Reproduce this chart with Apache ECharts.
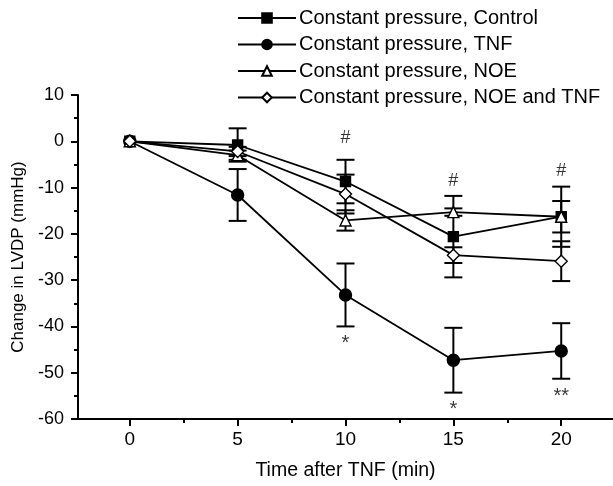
<!DOCTYPE html>
<html>
<head>
<meta charset="utf-8">
<script src="https://cdn.jsdelivr.net/npm/echarts@6/dist/echarts.min.js"></script>
<style>
  html, body { margin: 0; padding: 0; background: #fff; }
  #chart { width: 613px; height: 486px; }
</style>
</head>
<body>
<div id="chart"></div>
<script>
const times = [0, 5, 10, 15, 20];
const controlMean = [0, -0.8, -8.7, -20.6, -16.3];
const controlSe = [0, 3.6, 4.7, 8.8, 6.5];
const tnfMean = [0, -11.6, -33.2, -47.3, -45.3];
const tnfSe = [0, 5.6, 6.8, 7.0, 6.0];
const noeMean = [0, -3.0, -17.1, -15.3, -16.3];
const noeSe = [0, 1.0, 2.2, 0.8, 3.4];
const noeTnfMean = [0, -2.2, -11.4, -24.6, -25.9];
const noeTnfSe = [0, 1.0, 4.2, 1.7, 4.3];

const xTicks = [0, 5, 10, 15, 20];
const xMinorTicks = [2.5, 7.5, 12.5, 17.5];

// significance marks: [time, y, text]
const hashMarks = [[10, 0.6, '#'], [15, -8.5, '#'], [20, -6.4, '#']];
const starMarks = [[10, -43.7, '*'], [15, -57.9, '*'], [20, -55.2, '**']];

const FONT = '"Liberation Sans", Arial, sans-serif';

const chart = echarts.init(document.getElementById('chart'));

function points(mean) {
  return times.map((t, i) => [t, mean[i]]);
}

function bars(mean, se) {
  return times
    .map((t, i) => [t, mean[i] - se[i], mean[i] + se[i]])
    .filter((d, i) => se[i] > 0);
}

function renderErrorBar(params, api) {
  const x = api.value(0);
  const top = api.coord([x, api.value(2)]);
  const bot = api.coord([x, api.value(1)]);
  const w = 9;
  const style = { stroke: '#000', lineWidth: 2 };
  return {
    type: 'group',
    children: [
      { type: 'line', shape: { x1: top[0], y1: top[1], x2: bot[0], y2: bot[1] }, style },
      { type: 'line', shape: { x1: top[0] - w, y1: top[1], x2: top[0] + w, y2: top[1] }, style },
      { type: 'line', shape: { x1: bot[0] - w, y1: bot[1], x2: bot[0] + w, y2: bot[1] }, style }
    ]
  };
}

const groups = [
  { name: 'Constant pressure, Control', mean: controlMean, se: controlSe, symbol: 'rect', size: 10, fill: '#000' },
  { name: 'Constant pressure, TNF', mean: tnfMean, se: tnfSe, symbol: 'circle', size: 12, fill: '#000' },
  { name: 'Constant pressure, NOE', mean: noeMean, se: noeSe, symbol: 'triangle', size: 11, fill: '#fff' },
  { name: 'Constant pressure, NOE and TNF', mean: noeTnfMean, se: noeTnfSe, symbol: 'diamond', size: 12, fill: '#fff' }
];

const series = [];
groups.forEach((g) => {
  series.push({
    type: 'custom',
    renderItem: renderErrorBar,
    data: bars(g.mean, g.se),
    z: 1,
    silent: true
  });
});
groups.forEach((g) => {
  series.push({
    name: g.name,
    type: 'line',
    data: points(g.mean),
    symbol: g.symbol,
    symbolSize: g.size,
    showAllSymbol: true,
    lineStyle: { color: '#000', width: 1.8 },
    itemStyle: { color: g.fill, borderColor: '#000', borderWidth: 1.4 },
    z: 3
  });
});

function markSeries(marks, size) {
  return {
    type: 'scatter',
    data: marks,
    symbolSize: 0,
    silent: true,
    z: 4,
    label: {
      show: true,
      position: 'inside',
      formatter: (p) => p.data[2],
      color: '#000',
      fontFamily: FONT,
      fontSize: size
    }
  };
}
series.push(markSeries(hashMarks, 18));
series.push(markSeries(starMarks, 20));

const option = {
  animation: false,
  backgroundColor: '#fff',
  textStyle: { fontFamily: FONT },
  legend: {
    orient: 'vertical',
    left: 237,
    top: 8,
    padding: 0,
    itemWidth: 58,
    itemHeight: 12,
    itemGap: 6.5,
    data: groups.map((g) => g.name),
    textStyle: { fontFamily: FONT, fontSize: 20, lineHeight: 20, color: '#000', padding: [0, 0, 0, -2] }
  },
  grid: { left: 78, right: 0, top: 95, bottom: 63, containLabel: false },
  xAxis: [
    {
      type: 'value',
      min: -2.4,
      max: 22.4,
      position: 'bottom',
      name: 'Time after TNF (min)',
      nameLocation: 'middle',
      nameGap: 42,
      nameTextStyle: { fontFamily: FONT, fontSize: 19.5, color: '#000' },
      axisLine: { show: true, onZero: false, lineStyle: { color: '#000', width: 2 } },
      axisTick: { show: true, length: 7, customValues: xTicks, lineStyle: { color: '#000', width: 2 } },
      axisLabel: { customValues: xTicks, margin: 11, fontFamily: FONT, fontSize: 19, color: '#000' },
      splitLine: { show: false }
    },
    {
      type: 'value',
      min: -2.4,
      max: 22.4,
      position: 'bottom',
      offset: 0,
      axisLine: { show: false, onZero: false },
      axisTick: { show: true, length: 4, customValues: xMinorTicks, lineStyle: { color: '#000', width: 2 } },
      axisLabel: { show: false },
      splitLine: { show: false }
    }
  ],
  yAxis: {
    type: 'value',
    min: -60,
    max: 10,
    interval: 10,
    name: 'Change in LVDP (mmHg)',
    nameLocation: 'middle',
    nameGap: 50,
    nameTextStyle: { fontFamily: FONT, fontSize: 17, color: '#000' },
    axisLine: { show: true, onZero: false, lineStyle: { color: '#000', width: 2 } },
    axisTick: { show: true, length: 7, lineStyle: { color: '#000', width: 2 } },
    minorTick: { show: true, splitNumber: 2, length: 4, lineStyle: { color: '#000', width: 2 } },
    axisLabel: { margin: 14, fontFamily: FONT, fontSize: 18, color: '#000' },
    splitLine: { show: false }
  },
  series: series
};

chart.setOption(option);
</script>
</body>
</html>
